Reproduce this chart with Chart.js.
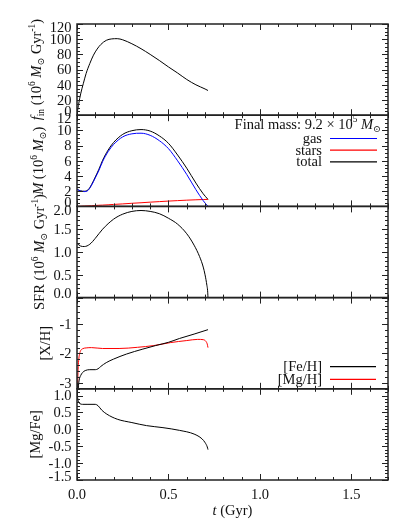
<!DOCTYPE html>
<html><head><meta charset="utf-8">
<script src="https://cdn.jsdelivr.net/npm/chart.js@4"></script>
<style>
html,body{margin:0;padding:0;background:#fff;}
#wrap{position:relative;width:411px;height:529px;overflow:hidden;}
canvas{position:absolute;left:0;top:0;}
</style></head><body><div id="wrap">
<canvas id="c1" width="411" height="529"></canvas>
<canvas id="c2" width="411" height="529"></canvas>
<canvas id="c3" width="411" height="529"></canvas>
<canvas id="c4" width="411" height="529"></canvas>
<canvas id="c5" width="411" height="529"></canvas>
</div>
<script>
// ---------------- data ----------------
const xTicks = [0.0, 0.5, 1.0, 1.5];

const finT = [0, 0.005, 0.01, 0.02, 0.035, 0.05, 0.07, 0.09, 0.11, 0.13, 0.16, 0.19, 0.22, 0.25, 0.3, 0.35, 0.4, 0.45, 0.5, 0.55, 0.6, 0.65, 0.7, 0.716];
const finV = [0, 9, 16, 28, 42, 55, 68, 79, 87, 93, 98.5, 100.4, 100.7, 99.2, 94, 87.5, 80, 72, 63.5, 55.5, 47, 40, 34.5, 32.5];

const massT  = [0, 0.02, 0.04, 0.06, 0.08, 0.1, 0.12, 0.14, 0.17, 0.2, 0.25, 0.3, 0.35, 0.4, 0.45, 0.5, 0.55, 0.6, 0.65, 0.69, 0.716];
const gasV   = [2.25, 2.02, 1.95, 2.1, 2.8, 3.75, 4.75, 5.9, 7.2, 8.15, 9.15, 9.55, 9.63, 9.35, 8.65, 7.6, 6.0, 4.2, 2.2, 0.75, 0];
const starsV = [0, 0.02, 0.05, 0.07, 0.09, 0.12, 0.15, 0.17, 0.21, 0.26, 0.33, 0.41, 0.48, 0.56, 0.63, 0.7, 0.76, 0.82, 0.87, 0.905, 0.92];
const totalV = [2.25, 2.04, 2.0, 2.17, 2.89, 3.87, 4.9, 6.07, 7.41, 8.41, 9.48, 9.96, 10.11, 9.91, 9.28, 8.3, 6.76, 5.02, 3.07, 1.655, 0.92];

const sfrT = [0, 0.02, 0.04, 0.07, 0.1, 0.14, 0.2, 0.25, 0.3, 0.35, 0.4, 0.45, 0.5, 0.55, 0.6, 0.64, 0.67, 0.69, 0.70, 0.71, 0.714, 0.716];
const sfrV = [1.19, 1.13, 1.12, 1.17, 1.3, 1.5, 1.72, 1.83, 1.89, 1.91, 1.89, 1.84, 1.74, 1.61, 1.4, 1.15, 0.9, 0.67, 0.5, 0.27, 0.15, 0];

const feT = [0.004, 0.008, 0.012, 0.02, 0.03, 0.045, 0.07, 0.1, 0.115, 0.13, 0.16, 0.2, 0.27, 0.36, 0.43, 0.5, 0.56, 0.64, 0.716];
const feV = [-3.6, -3.1, -2.9, -2.75, -2.65, -2.58, -2.55, -2.55, -2.52, -2.44, -2.31, -2.19, -2.02, -1.85, -1.73, -1.62, -1.49, -1.34, -1.19];

const mgT = [0.002, 0.004, 0.006, 0.009, 0.012, 0.016, 0.02, 0.03, 0.05, 0.08, 0.14, 0.23, 0.33, 0.42, 0.51, 0.6, 0.66, 0.69, 0.705, 0.712, 0.716];
const mgV = [-3.6, -3.0, -2.55, -2.25, -2.08, -1.97, -1.9, -1.84, -1.81, -1.8, -1.83, -1.83, -1.79, -1.73, -1.63, -1.56, -1.52, -1.53, -1.59, -1.68, -1.8];

const mgfeT = [0, 0.003, 0.006, 0.01, 0.016, 0.03, 0.06, 0.1, 0.115, 0.135, 0.163, 0.22, 0.3, 0.38, 0.47, 0.56, 0.64, 0.683, 0.701, 0.712, 0.716];
const mgfeV = [1.13, 0.95, 0.85, 0.79, 0.76, 0.74, 0.74, 0.74, 0.70, 0.57, 0.45, 0.30, 0.20, 0.11, 0.05, -0.03, -0.14, -0.28, -0.4, -0.52, -0.6];

const finTicks  = [0, 20, 40, 60, 80, 100, 120];
const massTicks = [0, 2, 4, 6, 8, 10, 12];
const sfrTicks  = [0.0, 0.5, 1.0, 1.5, 2.0];
const xhTicks   = [-3, -2, -1];
const mgfeTicks = [1.0, 0.5, 0.0, -0.5, -1.0, -1.5];

// ---------------- layout ----------------
const W = 411, H = 529;
const PL = 77, PR = 388;
const TOPS = [24, 115.2, 206.4, 297.6, 388.8, 480];
const FS = 14.5;
const FONT = '"Liberation Serif", "Times New Roman", "DejaVu Serif", serif';
const AX = '#222';
const TXT = '#111';

function pts(t, v) { return t.map((x, i) => ({x: x, y: v[i]})); }

function segFont(s, fs) {
  const size = s.s ? fs * 0.65 : fs;
  return (s.i ? 'italic ' : '') + size + 'px ' + FONT;
}
function richWidth(ctx, segs, fs) {
  let w = 0;
  for (const s of segs) { ctx.font = segFont(s, fs); w += ctx.measureText(s.t).width; }
  return w;
}
function drawRich(ctx, segs, x, y, fs) {
  for (const s of segs) {
    ctx.font = segFont(s, fs);
    const dy = s.s === 'sup' ? -0.42 * fs : (s.s === 'sub' ? 0.22 * fs : 0);
    ctx.fillText(s.t, x, y + dy);
    x += ctx.measureText(s.t).width;
  }
}

function fmt(v, d) { return v.toFixed(d); }

const idlPlugin = {
  id: 'idl',
  afterDraw(chart) {
    const cfg = chart.options.plugins.idl;
    const ctx = chart.ctx;
    const {left, right, top, bottom} = chart.chartArea;
    const xs = chart.scales.x, ys = chart.scales.y;
    ctx.save();
    ctx.textAlign = 'left';
    ctx.textBaseline = 'alphabetic';
    // ticks
    ctx.strokeStyle = AX; ctx.lineWidth = 1;
    ctx.beginPath();
    for (let k = 0; k <= 17; k++) {
      const v = k / 10;
      const px = Math.round(xs.getPixelForValue(v)) + 0.5;
      const len = (k % 5 === 0) ? 6 : 3;
      ctx.moveTo(px, bottom); ctx.lineTo(px, bottom - len);
      ctx.moveTo(px, top); ctx.lineTo(px, top + len);
    }
    const ymin = ys.min, ymax = ys.max;
    const n0 = Math.ceil(ymin / cfg.minor - 1e-6), n1 = Math.floor(ymax / cfg.minor + 1e-6);
    for (let n = n0; n <= n1; n++) {
      const v = n * cfg.minor;
      const r = v / cfg.major;
      const major = Math.abs(r - Math.round(r)) < 1e-6;
      const py = Math.round(ys.getPixelForValue(v)) + 0.5;
      const len = major ? 6 : 3;
      ctx.moveTo(left, py); ctx.lineTo(left + len, py);
      ctx.moveTo(right, py); ctx.lineTo(right - len, py);
    }
    ctx.stroke();
    // box
    ctx.lineWidth = 1.5;
    ctx.strokeRect(left, top, right - left, bottom - top);
    // y tick labels
    ctx.fillStyle = TXT;
    ctx.font = FS + 'px ' + FONT;
    ctx.textAlign = 'right';
    for (const v of cfg.ticks) {
      let py = ys.getPixelForValue(v);
      py = Math.max(top + 3.5, Math.min(bottom - 4, py));
      ctx.fillText(fmt(v, cfg.dec), left - 5.5, py + 0.33 * FS);
    }
    // x tick labels & title
    if (cfg.xlabels) {
      ctx.textAlign = 'center';
      for (const v of xTicks) {
        ctx.fillText(fmt(v, 1), xs.getPixelForValue(v), 499);
      }
      ctx.textAlign = 'left';
      const segs = [{t: 't', i: 1}, {t: ' (Gyr)'}];
      const w = richWidth(ctx, segs, FS);
      drawRich(ctx, segs, (left + right) / 2 - w / 2, 515, FS);
    }
    // y title (rotated)
    ctx.textAlign = 'left';
    const segs = cfg.title;
    const tw = richWidth(ctx, segs, FS);
    ctx.save();
    ctx.translate(cfg.tx, (top + bottom) / 2);
    ctx.rotate(-Math.PI / 2);
    drawRich(ctx, segs, -tw / 2, 0.33 * FS, FS);
    ctx.restore();
    // legend
    if (cfg.legend) {
      const lg = cfg.legend;
      ctx.font = FS + 'px ' + FONT;
      if (lg.head) {
        const hw = richWidth(ctx, lg.head, FS);
        drawRich(ctx, lg.head, lg.headX - hw, lg.headY, FS);
      }
      lg.items.forEach((idx, j) => {
        const ds = chart.data.datasets[idx];
        const ly = lg.y0 + j * lg.dy;
        ctx.font = FS + 'px ' + FONT;
        ctx.textAlign = 'right';
        ctx.fillStyle = TXT;
        ctx.fillText(ds.label, lg.textX, ly + 0.3 * FS);
        ctx.strokeStyle = ds.borderColor;
        ctx.lineWidth = 1.2;
        ctx.beginPath();
        ctx.moveTo(lg.x1, ly); ctx.lineTo(lg.x2, ly);
        ctx.stroke();
      });
    }
    ctx.restore();
  }
};

function makeChart(id, k, datasets, ymin, ymax, idl) {
  const top = TOPS[k], bottom = TOPS[k + 1];
  return new Chart(document.getElementById(id), {
    type: 'line',
    data: {datasets: datasets.map(d => Object.assign({
      borderWidth: 1, pointRadius: 0, fill: false,
      cubicInterpolationMode: 'monotone', clip: 0
    }, d))},
    options: {
      responsive: false, animation: false, devicePixelRatio: 1,
      layout: {padding: {left: PL, right: W - PR, top: top, bottom: H - bottom}},
      scales: {
        x: {type: 'linear', min: 0, max: 1.7, display: false},
        y: {type: 'linear', min: ymin, max: ymax, display: false}
      },
      plugins: {legend: {display: false}, tooltip: {enabled: false}, idl: idl}
    },
    plugins: [idlPlugin]
  });
}

const MSUN = [{t: 'M', i: 1}, {t: '\u2299', s: 'sub'}];

makeChart('c1', 0, [
  {label: 'f_in', data: pts(finT, finV), borderColor: '#000'}
], 0, 120, {
  ticks: finTicks, dec: 0, major: 20, minor: 5, tx: 36.5,
  title: [{t: 'f', i: 1}, {t: 'in', s: 'sub'}, {t: ' (10'}, {t: '6', s: 'sup'}, {t: ' '}].concat(MSUN, [{t: ' Gyr'}, {t: '-1', s: 'sup'}, {t: ')'}])
});

makeChart('c2', 1, [
  {label: 'gas', data: pts(massT, gasV), borderColor: '#0000ff'},
  {label: 'stars', data: pts(massT, starsV), borderColor: '#ff0000'},
  {label: 'total', data: pts(massT, totalV), borderColor: '#000'}
], 0, 12, {
  ticks: massTicks, dec: 0, major: 2, minor: 0.5, tx: 38,
  title: [{t: 'M', i: 1}, {t: ' (10'}, {t: '6', s: 'sup'}, {t: ' '}].concat(MSUN, [{t: ')'}]),
  legend: {
    head: [{t: 'Final mass: 9.2 \u00d7 10'}, {t: '5', s: 'sup'}, {t: ' '}].concat(MSUN),
    headX: 381, headY: 128.5,
    items: [0, 1, 2], textX: 322, x1: 330, x2: 377, y0: 138.5, dy: 11.7
  }
});

makeChart('c3', 2, [
  {label: 'SFR', data: pts(sfrT, sfrV), borderColor: '#000'}
], 0, 2, {
  ticks: sfrTicks, dec: 1, major: 0.5, minor: 0.1, tx: 39,
  title: [{t: 'SFR (10'}, {t: '6', s: 'sup'}, {t: ' '}].concat(MSUN, [{t: ' Gyr'}, {t: '-1', s: 'sup'}, {t: ')'}])
});

makeChart('c4', 3, [
  {label: '[Fe/H]', data: pts(feT, feV), borderColor: '#000'},
  {label: '[Mg/H]', data: pts(mgT, mgV), borderColor: '#ff0000'}
], -3.2, -0.1, {
  ticks: xhTicks, dec: 0, major: 1, minor: 0.2, tx: 45,
  title: [{t: '[X/H]'}],
  legend: {items: [0, 1], textX: 322, x1: 330, x2: 376, y0: 366.7, dy: 12.6}
});

makeChart('c5', 4, [
  {label: '[Mg/Fe]', data: pts(mgfeT, mgfeV), borderColor: '#000'}
], -1.5, 1.2, {
  ticks: mgfeTicks, dec: 1, major: 0.5, minor: 0.1, tx: 35,
  title: [{t: '[Mg/Fe]'}], xlabels: true
});
</script>
</body></html>
